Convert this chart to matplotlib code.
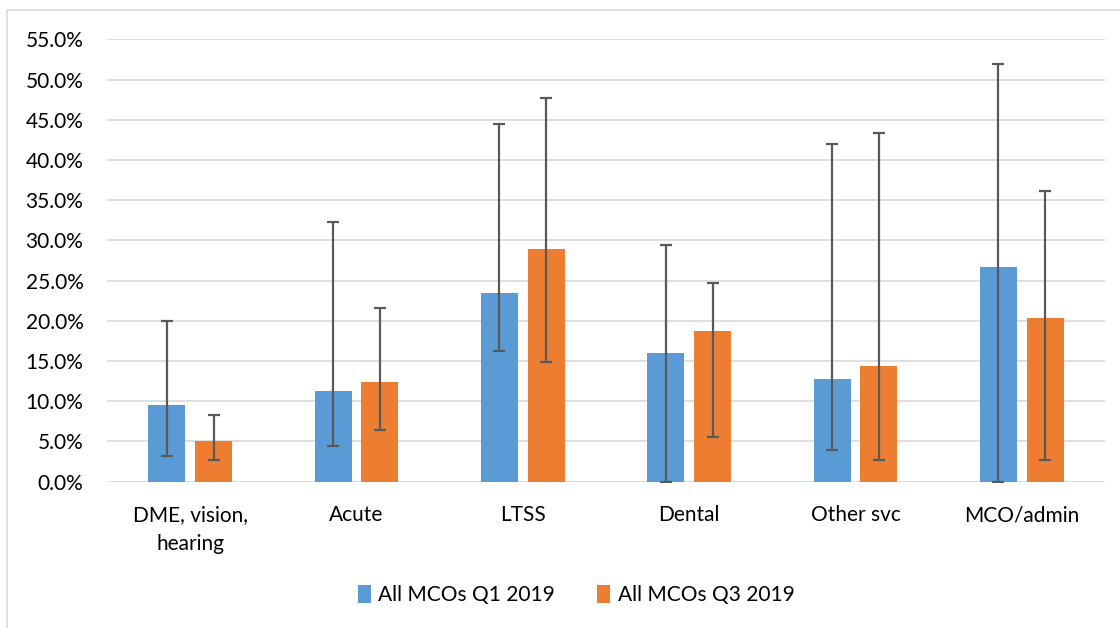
import matplotlib
matplotlib.use("Agg")
import matplotlib.pyplot as plt
from matplotlib.patches import Patch, Rectangle
from matplotlib.ticker import MultipleLocator, PercentFormatter
import numpy as np

plt.rcParams['font.family'] = ['Lato', 'DejaVu Sans']

categories = ["DME, vision,\nhearing", "Acute", "LTSS", "Dental", "Other svc", "MCO/admin"]
series_names = ["All MCOs Q1 2019", "All MCOs Q3 2019"]
q1_values = [9.5, 11.3, 23.5, 16.0, 12.8, 26.7]
q1_low = [3.2, 4.4, 16.2, 0.0, 3.9, 0.0]
q1_high = [20.0, 32.3, 44.5, 29.4, 42.0, 51.9]
q3_values = [5.1, 12.4, 28.9, 18.7, 14.4, 20.4]
q3_low = [2.7, 6.4, 14.9, 5.6, 2.7, 2.7]
q3_high = [8.3, 21.6, 47.7, 24.7, 43.3, 36.1]

colors = ["#5B9BD5", "#ED7D31"]

fig = plt.figure(figsize=(11.2, 6.28), dpi=100)
ax = fig.add_axes([107/1120, 1 - 481.7/628, (1105 - 107)/1120, (481.7 - 39.3)/628])

# outer chart border
fig.patches.append(Rectangle((7/1120, -0.1), 1.2, 1 - 10.5/628 + 0.1, transform=fig.transFigure,
                             fill=False, edgecolor="#d9d9d9", linewidth=1.2, zorder=0))

x = np.arange(len(categories))
w = 0.222
off = 0.141
for i, (vals, lo, hi) in enumerate([(q1_values, q1_low, q1_high), (q3_values, q3_low, q3_high)]):
    vals = np.array(vals); lo = np.array(lo); hi = np.array(hi)
    pos = x + (off if i else -off)
    ax.bar(pos, vals, width=w, color=colors[i], zorder=2, label=series_names[i])
    ax.errorbar(pos, vals, yerr=[vals - lo, hi - vals], fmt='none', ecolor="#595959",
                elinewidth=1.6, capsize=4.5, capthick=1.6, zorder=3)

ax.set_xlim(-0.5, len(categories) - 0.5)
ax.set_ylim(0, 55)
ax.yaxis.set_major_locator(MultipleLocator(5))
ax.yaxis.set_major_formatter(PercentFormatter(decimals=1))
ax.grid(axis='y', color="#d9d9d9", linewidth=1.2, zorder=0)
ax.set_axisbelow(True)
for s in ax.spines.values():
    s.set_visible(False)
ax.tick_params(axis='both', length=0, labelsize=15, colors="#000000")
ax.tick_params(axis='y', pad=17)
ax.tick_params(axis='x', pad=17)
ax.set_xticks(x)
ax.set_xticklabels(categories, linespacing=1.55)

handles = [Patch(facecolor=c) for c in colors]
fig.legend(handles, series_names, loc='center', bbox_to_anchor=(576/1120, 1 - 595/628),
           ncol=2, frameon=False, fontsize=15, handlelength=0.65, handleheight=1.0,
           handletextpad=0.35, columnspacing=2.0)

fig.savefig("out.png", dpi=100)
